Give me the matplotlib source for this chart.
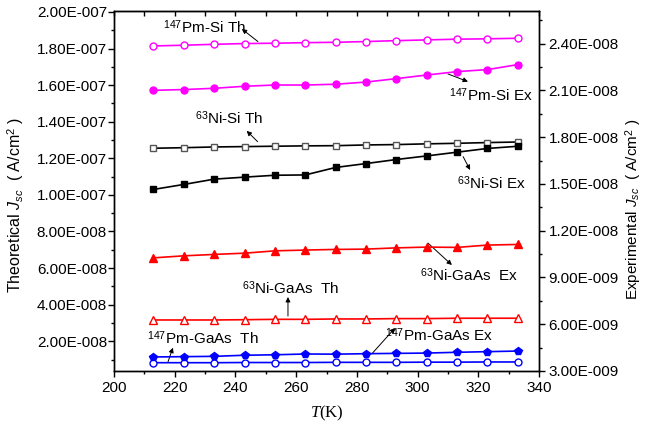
import matplotlib
matplotlib.use("Agg")
import matplotlib.pyplot as plt
from matplotlib.ticker import FuncFormatter, MultipleLocator

plt.rcParams["font.family"] = ["Liberation Sans", "DejaVu Sans"]
plt.rcParams["mathtext.fontset"] = "custom"
plt.rcParams["mathtext.rm"] = "Liberation Sans"
plt.rcParams["mathtext.it"] = "Liberation Serif:italic"
plt.rcParams["mathtext.sf"] = "Liberation Sans:italic"

# temperature (K)
temps = [213, 223, 233, 243, 253, 263, 273, 283, 293, 303, 313, 323, 333]

# theoretical Jsc (A/cm^2), left axis
pm_si_th = [1.814e-7, 1.818e-7, 1.823e-7, 1.827e-7, 1.829e-7, 1.832e-7, 1.834e-7,
            1.838e-7, 1.843e-7, 1.847e-7, 1.851e-7, 1.853e-7, 1.856e-7]
ni_si_th = [1.255e-7, 1.258e-7, 1.262e-7, 1.264e-7, 1.266e-7, 1.268e-7, 1.269e-7,
            1.273e-7, 1.275e-7, 1.279e-7, 1.282e-7, 1.286e-7, 1.289e-7]
ni_gaas_th = [3.165e-8, 3.165e-8, 3.165e-8, 3.18e-8, 3.20e-8, 3.20e-8, 3.22e-8,
              3.22e-8, 3.24e-8, 3.24e-8, 3.26e-8, 3.26e-8, 3.26e-8]
pm_gaas_th = [8.3e-9, 8.3e-9, 8.3e-9, 8.4e-9, 8.4e-9, 8.4e-9, 8.5e-9,
              8.5e-9, 8.5e-9, 8.6e-9, 8.6e-9, 8.7e-9, 8.7e-9]

# experimental Jsc (A/cm^2), right axis
pm_si_ex = [2.101e-8, 2.106e-8, 2.114e-8, 2.127e-8, 2.135e-8, 2.135e-8, 2.140e-8,
            2.154e-8, 2.176e-8, 2.199e-8, 2.221e-8, 2.234e-8, 2.266e-8]
ni_si_ex = [1.465e-8, 1.497e-8, 1.531e-8, 1.544e-8, 1.556e-8, 1.558e-8, 1.606e-8,
            1.631e-8, 1.657e-8, 1.680e-8, 1.704e-8, 1.728e-8, 1.742e-8]
ni_gaas_ex = [1.026e-8, 1.039e-8, 1.048e-8, 1.056e-8, 1.071e-8, 1.076e-8, 1.080e-8,
              1.082e-8, 1.090e-8, 1.095e-8, 1.093e-8, 1.108e-8, 1.112e-8]
pm_gaas_ex = [3.90e-9, 3.92e-9, 3.94e-9, 4.01e-9, 4.04e-9, 4.09e-9, 4.08e-9,
              4.11e-9, 4.13e-9, 4.15e-9, 4.20e-9, 4.24e-9, 4.28e-9]

# (label, text position, arrow tail, arrow head) in left-axis data units
notes = [
    (r"$^{147}$Pm-Si Th", (216.1, 1.918e-7), (247.4, 1.838e-7), (242.1, 1.907e-7)),
    (r"$^{147}$Pm-Si Ex", (310.3, 1.546e-7), (310.0, 1.661e-7), (316.6, 1.619e-7)),
    (r"$^{63}$Ni-Si Th", (226.7, 1.421e-7), (247.3, 1.291e-7), (243.7, 1.350e-7)),
    (r"$^{63}$Ni-Si Ex", (313.0, 1.065e-7), (315.0, 1.209e-7), (317.3, 1.136e-7)),
    (r"$^{63}$Ni-GaAs  Ex", (300.8, 5.62e-8), (303.4, 7.37e-8), (311.3, 6.17e-8)),
    (r"$^{63}$Ni-GaAs  Th", (242.2, 4.91e-8), (257.3, 3.38e-8), (257.3, 4.42e-8)),
    (r"$^{147}$Pm-GaAs  Th", (210.9, 2.18e-8), (217.8, 8.85e-9), (219.4, 1.65e-8)),
    (r"$^{147}$Pm-GaAs Ex", (289.3, 2.34e-8), (284.9, 1.31e-8), (292.6, 2.73e-8)),
]


def sci_fmt(v, pos):
    if v == 0:
        return "0"
    s = f"{v:.2E}"
    mant, exp = s.split("E")
    return f"{mant}E{int(exp):04d}"


fig = plt.figure(figsize=(6.46, 4.28), dpi=100)
ax = fig.add_axes([0.1765, 0.1332, 0.6579, 0.8411])
ax2 = ax.twinx()

lw = 1.2
ax.plot(temps, pm_si_th, "-o", color="#ff00ff", mfc="white", mec="#ff00ff", lw=lw, ms=5)
ax.plot(temps, ni_si_th, "-s", color="black", mfc="white", mec="#555555", lw=lw, ms=4.5)
ax.plot(temps, ni_gaas_th, "-^", color="red", mfc="white", mec="red", lw=lw, ms=6)
ax.plot(temps, pm_gaas_th, "-o", color="blue", mfc="white", mec="blue", lw=lw, ms=5)

ax2.plot(temps, pm_si_ex, "-o", color="#ff00ff", lw=lw, ms=5)
ax2.plot(temps, ni_si_ex, "-s", color="black", lw=lw, ms=4.5)
ax2.plot(temps, ni_gaas_ex, "-^", color="red", lw=lw, ms=6)
ax2.plot(temps, pm_gaas_ex, "-p", color="blue", lw=lw, ms=6)

ax.set_xlim(200, 340)
ax.set_ylim(3.77e-9, 2.005e-7)
ax2.set_ylim(3.0e-9, 2.61e-8)

ax.xaxis.set_major_locator(MultipleLocator(20))
ax.xaxis.set_minor_locator(MultipleLocator(10))
ax.yaxis.set_major_locator(MultipleLocator(2e-8))
ax.yaxis.set_minor_locator(MultipleLocator(1e-8))
ax2.yaxis.set_major_locator(MultipleLocator(3e-9))
ax2.yaxis.set_minor_locator(MultipleLocator(1.5e-9))
ax.yaxis.set_major_formatter(FuncFormatter(sci_fmt))
ax2.yaxis.set_major_formatter(FuncFormatter(sci_fmt))

ax.tick_params(which="both", direction="out", labelsize=11, width=1)
ax.tick_params(which="major", length=4)
ax.tick_params(which="minor", length=2.5)
ax.tick_params(axis="y", pad=1)
ax2.tick_params(which="both", direction="out", labelsize=11, width=1)
ax2.tick_params(which="major", length=4, pad=3)
ax2.tick_params(which="minor", length=2.5)

top = ax.secondary_xaxis("top")
top.xaxis.set_major_locator(MultipleLocator(10))
top.tick_params(direction="in", length=3.5, labeltop=False, width=1)

for a in (ax, ax2):
    for sp in a.spines.values():
        sp.set_linewidth(1.0)

ax.set_xlabel(r"$T$(K)", family="Liberation Serif", fontsize=12, labelpad=6)
ax.set_ylabel(r"Theoretical $\mathsf{J}_{\mathsf{sc}}$  ( A/cm$^2$ )", fontsize=11.5)
ax2.set_ylabel(r"Experimental $\mathsf{J}_{\mathsf{sc}}$  ( A/cm$^2$ )", fontsize=11)
ax.yaxis.set_label_coords(-0.208, 0.46)
ax2.yaxis.set_label_coords(1.198, 0.45)

for label, txt, tail, head in notes:
    ax.text(txt[0], txt[1], label, fontsize=11, ha="left", va="center")
    ax.annotate("", xy=head, xytext=tail,
                arrowprops=dict(arrowstyle="-|>", color="black", lw=0.7,
                                mutation_scale=7, shrinkA=0, shrinkB=0))

fig.savefig("out.png", dpi=100)
